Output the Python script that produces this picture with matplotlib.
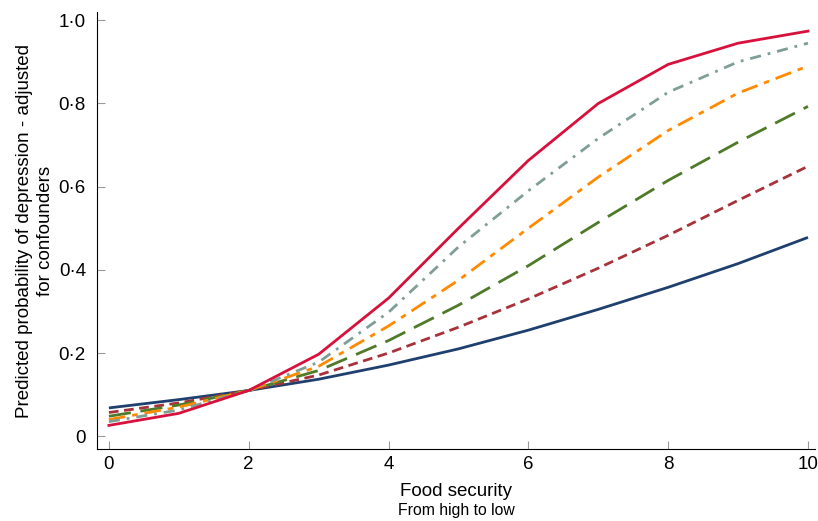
import matplotlib
matplotlib.use("Agg")
import matplotlib.pyplot as plt

plt.rcParams['font.family'] = ['Liberation Sans', 'DejaVu Sans']

x = [0, 1, 2, 3, 4, 5, 6, 7, 8, 9, 10]
red = [0.026, 0.055, 0.110, 0.197, 0.332, 0.500, 0.663, 0.800, 0.894, 0.945, 0.974]
gray = [0.035, 0.063, 0.110, 0.178, 0.298, 0.455, 0.590, 0.716, 0.827, 0.900, 0.945]
orange = [0.040, 0.070, 0.110, 0.168, 0.265, 0.375, 0.500, 0.623, 0.735, 0.825, 0.890]
green = [0.048, 0.075, 0.110, 0.158, 0.230, 0.315, 0.410, 0.514, 0.615, 0.707, 0.793]
darkred = [0.057, 0.080, 0.110, 0.147, 0.200, 0.262, 0.330, 0.404, 0.483, 0.567, 0.649]
blue = [0.068, 0.088, 0.110, 0.137, 0.171, 0.210, 0.255, 0.305, 0.358, 0.415, 0.478]

yticks = [0, 0.2, 0.4, 0.6, 0.8, 1.0]
ytick_labels = ['0', '0·2', '0·4', '0·6', '0·8', '1·0']
xticks = [0, 2, 4, 6, 8, 10]

fig = plt.figure(figsize=(8.18, 5.21), dpi=100)
ax = fig.add_axes([0.1186, 0.138, 0.8777, 0.839])

ax.plot(x, blue, color='#1f3f6e', lw=2.0, solid_capstyle='butt')
ax.plot(x, darkred, color='#a8323a', lw=2.0, dashes=(3.5, 2))
ax.plot(x, green, color='#4f7a29', lw=2.0, dashes=(8, 3.5))
ax.plot(x, orange, color='#ff8a00', lw=2.0, dashes=(6, 2.5, 2, 2.5))
ax.plot(x, gray, color='#7f9e97', lw=2.0, dashes=(4, 2.5, 1, 2.5))
ax.plot(x, red, color='#d8103c', lw=2.0)

ax.set_xlim(-0.17, 10.1)
ax.set_ylim(-0.031, 1.02)
ax.set_xticks(xticks)
ax.set_yticks(yticks)
ax.set_yticklabels(ytick_labels)
ax.spines['top'].set_visible(False)
ax.spines['right'].set_visible(False)
ax.tick_params(axis='both', direction='in', length=6, width=0.8, color='#999999', labelsize=13.5, pad=5)
ax.tick_params(axis='y', pad=8)

ax.set_ylabel('Predicted probability of depression - adjusted\nfor confounders', fontsize=13.5, linespacing=1.35, labelpad=3)
ax.set_xlabel('Food security', fontsize=13.5, labelpad=7)
fig.text(0.1186 + 0.8777 * 0.5, 0.012, 'From high to low', fontsize=11.3, ha='center')

fig.savefig('out.png', dpi=100)
